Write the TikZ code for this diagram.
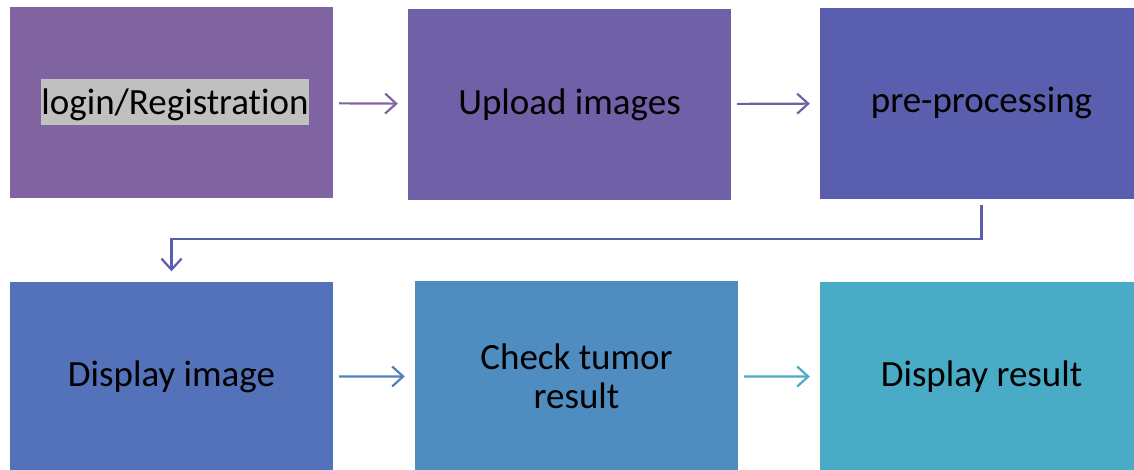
\documentclass[tikz,border=0pt]{standalone}
\usepackage{fontspec}
\setmainfont{Carlito}[Ligatures=NoCommon]
\usepackage{tikz}
\usetikzlibrary{arrows.meta}

\definecolor{boxA}{RGB}{128,100,162}
\definecolor{boxB}{RGB}{111,96,168}
\definecolor{boxC}{RGB}{90,94,174}
\definecolor{boxD}{RGB}{84,114,185}
\definecolor{boxE}{RGB}{79,140,192}
\definecolor{boxF}{RGB}{74,171,198}
\definecolor{arrD}{RGB}{79,129,189}
\definecolor{hlgray}{RGB}{192,192,192}

\begin{document}
\begin{tikzpicture}[x=1pt,y=1pt,
  box/.style={rectangle,minimum width=323pt,minimum height=191pt,inner sep=0pt,
    align=center,font=\fontsize{37}{39}\selectfont},
  flow/.style={line width=2.2pt,-{Straight Barb[length=11pt,width=20pt,line width=2.2pt]},
    shorten <=6pt,shorten >=10pt}]
\useasboundingbox (0,0) rectangle (1134,-469);
\clip (0,0) rectangle (1134,-469);
% first row
\node [box,fill=boxA] (login) at (171.5,-102.5) {};
\node [fill=hlgray,inner sep=0pt,text height=35pt,text depth=11pt,
  font=\fontsize{37}{39}\selectfont] (logintext) at (175,-102) {login/Registration};
\node [box,fill=boxB] (upload) at (569.5,-104.5) {Upload images};
\node [box,fill=boxC] (prep) at (981.5,-103) {pre-processing};
% second row
\node [box,fill=boxD] (dispimg) at (171.5,-377) {Display image};
\node [box,fill=boxE] (check) at (576.5,-376) {Check tumor\\result};
\node [box,fill=boxF] (dispres) at (981.5,-377) {Display result};
% arrows
\draw [flow,boxA] (login) -- (upload);
\draw [flow,boxB] (upload) -- (prep);
\draw [flow,boxC,shorten <=0pt] ([yshift=-6pt]prep.south) -- ++(0,-34) -| (dispimg.north);
\draw [flow,arrD] (dispimg) -- (check);
\draw [flow,boxF] (check) -- (dispres);
\end{tikzpicture}
\end{document}
